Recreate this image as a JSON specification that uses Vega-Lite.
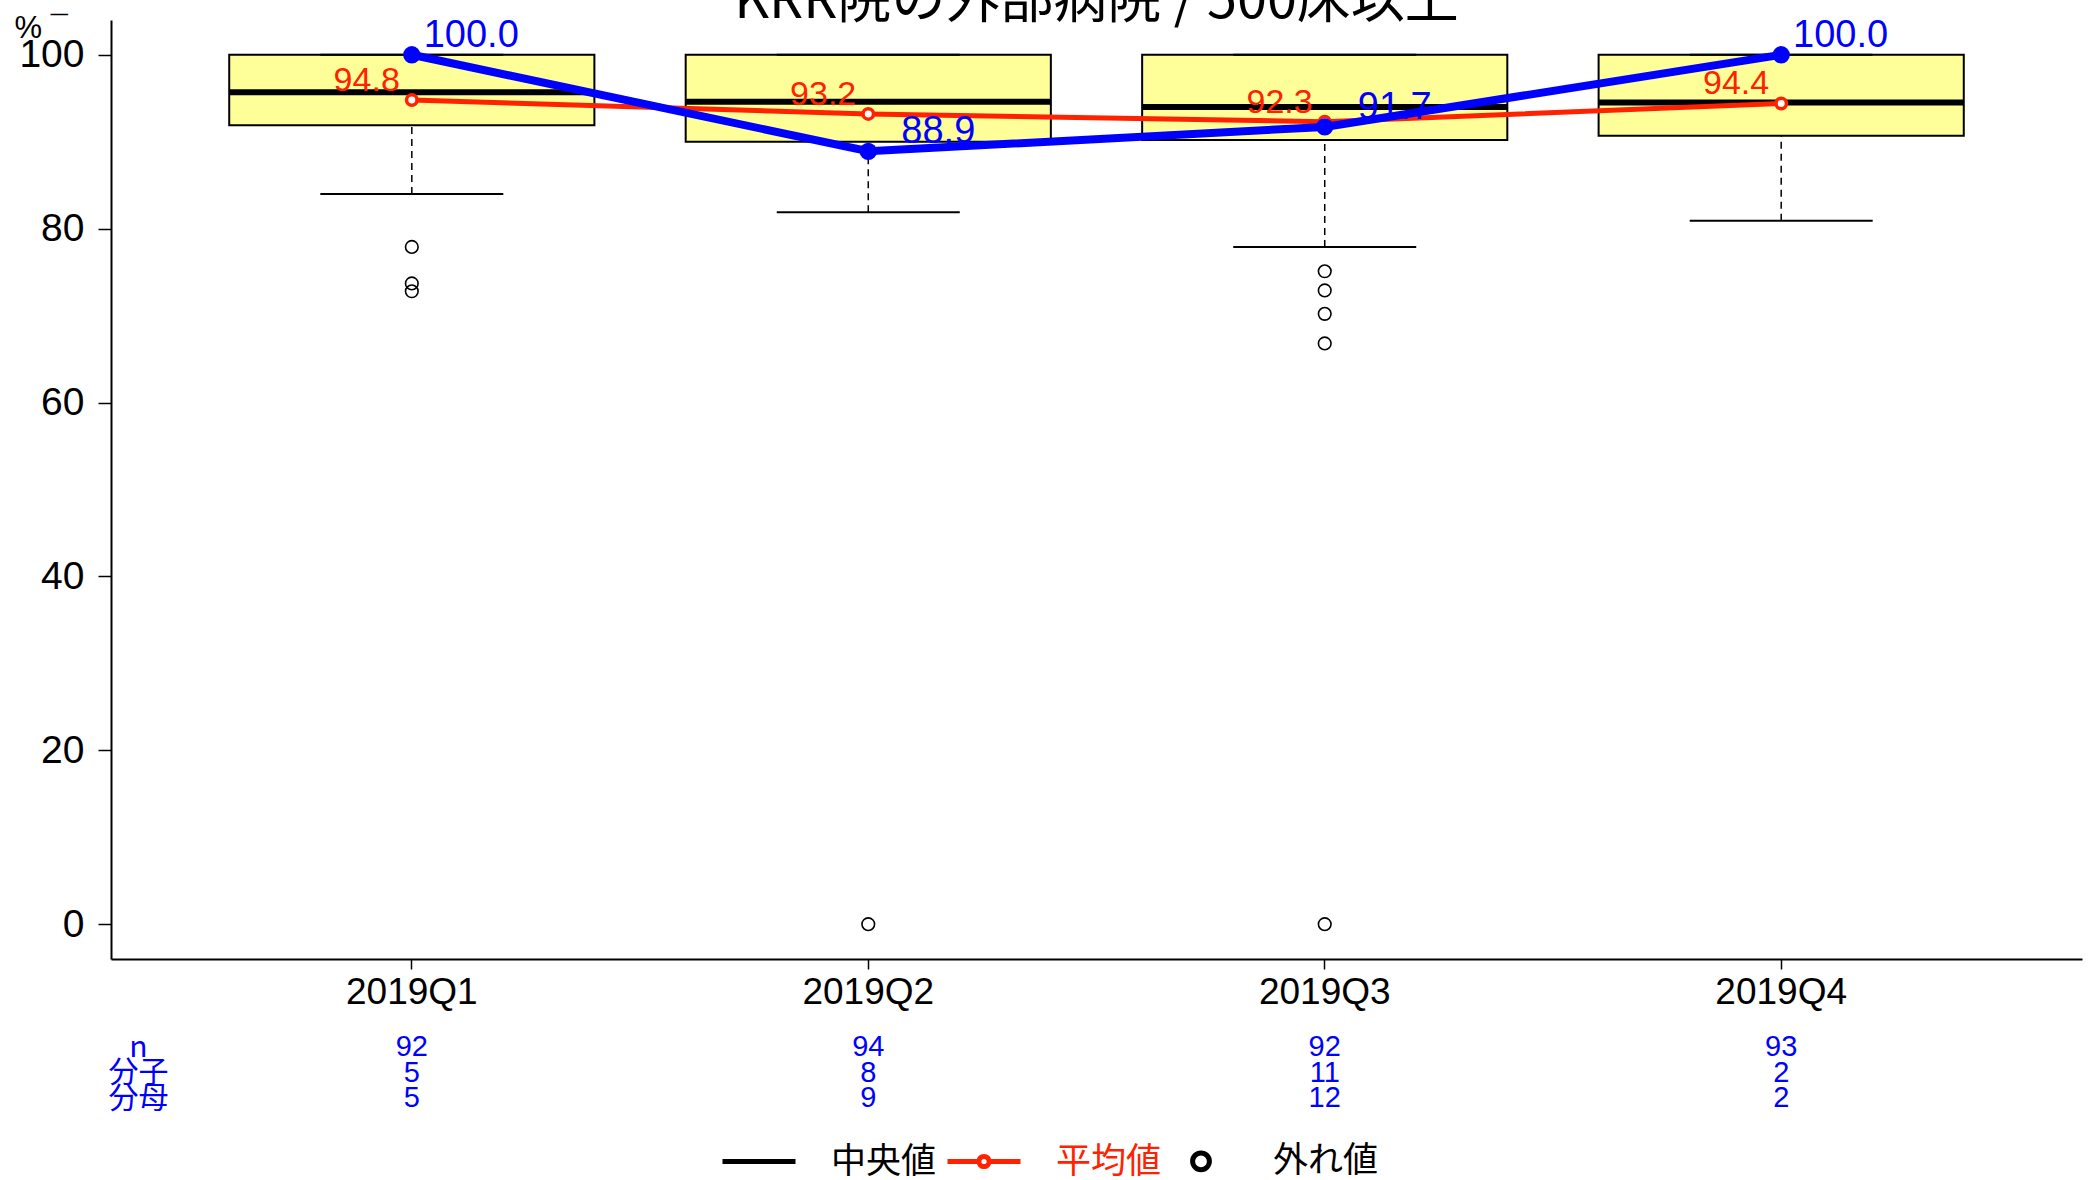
{
  "$schema": "https://vega.github.io/schema/vega-lite/v6.json",
  "width": 1971,
  "height": 939,
  "autosize": {"type": "none"},
  "padding": {"left": 111, "top": 20, "right": 7, "bottom": 221},
  "background": "white",
  "title": {
    "text": "KRR院の外部病院 / 500床以上",
    "font": "Noto Sans CJK JP",
    "fontSize": 54,
    "fontWeight": "normal",
    "color": "black",
    "baseline": "alphabetic",
    "anchor": "middle",
    "frame": "group",
    "offset": -60
  },
  "datasets": {
    "stats": [
      {"q": "2019Q1", "lo": 84.0, "q1": 91.9, "med": 95.7, "q3": 100, "hi": 100, "mean": 94.8, "val": 100.0},
      {"q": "2019Q2", "lo": 81.9, "q1": 90.0, "med": 94.6, "q3": 100, "hi": 100, "mean": 93.2, "val": 88.9},
      {"q": "2019Q3", "lo": 77.9, "q1": 90.2, "med": 94.0, "q3": 100, "hi": 100, "mean": 92.3, "val": 91.7},
      {"q": "2019Q4", "lo": 80.9, "q1": 90.7, "med": 94.5, "q3": 100, "hi": 100, "mean": 94.4, "val": 100.0}
    ],
    "outliers": [
      {"q": "2019Q1", "v": 77.9, "kind": "外れ値"},
      {"q": "2019Q1", "v": 73.7, "kind": "外れ値"},
      {"q": "2019Q1", "v": 72.8, "kind": "外れ値"},
      {"q": "2019Q2", "v": 0, "kind": "外れ値"},
      {"q": "2019Q3", "v": 75.1, "kind": "外れ値"},
      {"q": "2019Q3", "v": 72.9, "kind": "外れ値"},
      {"q": "2019Q3", "v": 70.2, "kind": "外れ値"},
      {"q": "2019Q3", "v": 66.8, "kind": "外れ値"},
      {"q": "2019Q3", "v": 0, "kind": "外れ値"}
    ],
    "table": [
      {"q": "2019Q1", "row": "n", "value": 92},
      {"q": "2019Q1", "row": "分子", "value": 5},
      {"q": "2019Q1", "row": "分母", "value": 5},
      {"q": "2019Q2", "row": "n", "value": 94},
      {"q": "2019Q2", "row": "分子", "value": 8},
      {"q": "2019Q2", "row": "分母", "value": 9},
      {"q": "2019Q3", "row": "n", "value": 92},
      {"q": "2019Q3", "row": "分子", "value": 11},
      {"q": "2019Q3", "row": "分母", "value": 12},
      {"q": "2019Q4", "row": "n", "value": 93},
      {"q": "2019Q4", "row": "分子", "value": 2},
      {"q": "2019Q4", "row": "分母", "value": 2}
    ]
  },
  "data": {"name": "stats"},
  "layer": [
    {
      "layer": [
        {
          "mark": {"type": "rule", "strokeDash": [7, 5], "strokeWidth": 1.5, "color": "black"},
          "encoding": {
            "x": {"field": "q", "type": "nominal", "title": null,
              "scale": {"type": "band", "domain": ["2019Q1", "2019Q2", "2019Q3", "2019Q4"], "paddingInner": 0.2, "paddingOuter": 0.259},
              "axis": {"labelAngle": 0, "domainColor": "black", "domainWidth": 2, "tickColor": "black", "tickWidth": 1.5, "tickSize": 10, "labelPadding": 5, "labelFontSize": 37, "labelColor": "black", "labelFont": "Liberation Sans, Arial, sans-serif"}},
            "y": {"field": "lo", "type": "quantitative", "title": "% ¯",
              "scale": {"domain": [-4, 104], "nice": false, "zero": false},
              "axis": {"titleAngle": 0, "titleAlign": "left", "titleBaseline": "alphabetic", "titleX": -97, "titleY": 17, "titleFont": "Liberation Sans, Arial, sans-serif", "titleFontSize": 31, "titleFontWeight": "normal", "titleColor": "black", "values": [0, 20, 40, 60, 80, 100], "grid": false, "domainColor": "black", "domainWidth": 2, "tickColor": "black", "tickWidth": 1.5, "tickSize": 13, "labelPadding": 14, "labelFont": "Liberation Sans, Arial, sans-serif", "labelFontSize": 39, "labelColor": "black"}},
            "y2": {"field": "q1"}
          }
        },
        {
          "mark": {"type": "rule", "strokeDash": [7, 5], "strokeWidth": 1.5, "color": "black"},
          "encoding": {
            "x": {"field": "q", "type": "nominal", "title": null},
            "y": {"field": "q3", "type": "quantitative", "title": "% ¯"},
            "y2": {"field": "hi"}
          }
        },
        {
          "mark": {"type": "bar", "fill": "#FFFF99", "stroke": "black", "strokeWidth": 2},
          "encoding": {
            "x": {"field": "q", "type": "nominal", "title": null},
            "y": {"field": "q1", "type": "quantitative", "title": "% ¯"},
            "y2": {"field": "q3"}
          }
        },
        {
          "mark": {"type": "tick", "size": 183, "thickness": 2, "color": "black", "opacity": 1},
          "encoding": {
            "x": {"field": "q", "type": "nominal", "title": null},
            "y": {"field": "lo", "type": "quantitative", "title": "% ¯"}
          }
        },
        {
          "mark": {"type": "tick", "size": 183, "thickness": 2, "color": "black", "opacity": 1},
          "encoding": {
            "x": {"field": "q", "type": "nominal", "title": null},
            "y": {"field": "hi", "type": "quantitative", "title": "% ¯"}
          }
        },
        {
          "mark": {"type": "tick", "size": 365, "thickness": 6, "color": "black", "opacity": 1},
          "encoding": {
            "x": {"field": "q", "type": "nominal", "title": null},
            "y": {"field": "med", "type": "quantitative", "title": "% ¯"}
          }
        },
        {
          "data": {"name": "outliers"},
          "mark": {"type": "point", "filled": false, "size": 3000, "strokeWidth": 1.6, "opacity": 1},
          "encoding": {
            "x": {"field": "q", "type": "nominal", "title": null},
            "y": {"field": "v", "type": "quantitative", "title": "% ¯"},
            "color": {"field": "kind", "type": "nominal",
              "scale": {"domain": ["中央値", "平均値", "外れ値"], "range": ["black", "#FF2200", "black"]},
              "legend": {"title": null, "orient": "none", "legendX": 609, "legendY": 1102, "direction": "horizontal", "columns": 3, "symbolSize": 5329, "symbolStrokeWidth": 5, "labelFont": "Noto Sans CJK JP", "labelFontSize": 35, "labelColor": "black", "labelOffset": 33, "columnPadding": 0, "labelLimit": 300,
                "encoding": {"labels": {"fill": {"condition": {"test": "datum.label === '平均値'", "value": "#FF2200"}, "value": "black"}}}}},
            "shape": {"field": "kind", "type": "nominal",
              "scale": {"domain": ["中央値", "平均値", "外れ値"], "range": ["M-1,0L1,0", "M-1,0L-0.14,0M0.14,0L1,0M-0.14,0A0.14,0.14 0 1,0 0.14,0A0.14,0.14 0 1,0 -0.14,0", "M-0.23,0A0.23,0.23 0 1,0 0.23,0A0.23,0.23 0 1,0 -0.23,0"]},
              "legend": {"title": null, "orient": "none", "legendX": 609, "legendY": 1102, "direction": "horizontal", "columns": 3, "symbolSize": 5329, "symbolStrokeWidth": 5, "labelFont": "Noto Sans CJK JP", "labelFontSize": 35, "labelColor": "black", "labelOffset": 33, "columnPadding": 0, "labelLimit": 300,
                "encoding": {"labels": {"fill": {"condition": {"test": "datum.label === '平均値'", "value": "#FF2200"}, "value": "black"}}}}}
          }
        },
        {
          "mark": {"type": "line", "color": "#FF2200", "strokeWidth": 5},
          "encoding": {
            "x": {"field": "q", "type": "nominal", "title": null},
            "y": {"field": "mean", "type": "quantitative", "title": "% ¯"}
          }
        },
        {
          "mark": {"type": "point", "shape": "circle", "filled": true, "fill": "white", "stroke": "#FF2200", "strokeWidth": 3.5, "size": 110, "opacity": 1},
          "encoding": {
            "x": {"field": "q", "type": "nominal", "title": null},
            "y": {"field": "mean", "type": "quantitative", "title": "% ¯"}
          }
        },
        {
          "mark": {"type": "text", "color": "#FF2200", "font": "Liberation Sans, Arial, sans-serif", "fontSize": 34, "align": "right", "baseline": "middle", "dx": -12, "dy": -19},
          "encoding": {
            "x": {"field": "q", "type": "nominal", "title": null},
            "y": {"field": "mean", "type": "quantitative", "title": "% ¯"},
            "text": {"field": "mean", "type": "quantitative", "format": ".1f"}
          }
        },
        {
          "mark": {"type": "line", "color": "#0000FF", "strokeWidth": 8},
          "encoding": {
            "x": {"field": "q", "type": "nominal", "title": null},
            "y": {"field": "val", "type": "quantitative", "title": "% ¯"}
          }
        },
        {
          "mark": {"type": "point", "shape": "circle", "filled": true, "color": "#0000FF", "size": 300, "opacity": 1},
          "encoding": {
            "x": {"field": "q", "type": "nominal", "title": null},
            "y": {"field": "val", "type": "quantitative", "title": "% ¯"}
          }
        },
        {
          "mark": {"type": "text", "color": "#0000FF", "font": "Liberation Sans, Arial, sans-serif", "fontSize": 38, "align": "right", "baseline": "middle", "dx": 107, "dy": -19},
          "encoding": {
            "x": {"field": "q", "type": "nominal", "title": null},
            "y": {"field": "val", "type": "quantitative", "title": "% ¯"},
            "text": {"field": "val", "type": "quantitative", "format": ".1f"}
          }
        }
      ]
    },
    {
      "data": {"name": "table"},
      "mark": {"type": "text", "color": "#0000FF", "font": "Liberation Sans, Arial, sans-serif", "fontSize": 29, "align": "center", "baseline": "middle"},
      "encoding": {
        "x": {"field": "q", "type": "nominal", "title": null,
          "scale": {"type": "band", "domain": ["2019Q1", "2019Q2", "2019Q3", "2019Q4"], "paddingInner": 0.2, "paddingOuter": 0.259}},
        "y": {"field": "row", "type": "nominal", "title": null, "sort": ["n", "分子", "分母"],
          "scale": {"type": "point", "domain": ["n", "分子", "分母"], "range": [1027, 1078], "padding": 0},
          "axis": {"orient": "left", "domain": false, "ticks": false, "tickSize": 0, "labelPadding": -27, "labelAlign": "center", "labelBaseline": "middle", "labelColor": "#0000FF", "labelFont": "Noto Sans CJK JP", "labelFontSize": 30, "labelOverlap": false, "grid": false, "title": null}},
        "text": {"field": "value", "type": "quantitative"}
      }
    }
  ],
  "resolve": {"scale": {"y": "independent"}, "axis": {"y": "independent"}},
  "config": {
    "view": {"stroke": null},
    "axis": {"grid": false}
  }
}
